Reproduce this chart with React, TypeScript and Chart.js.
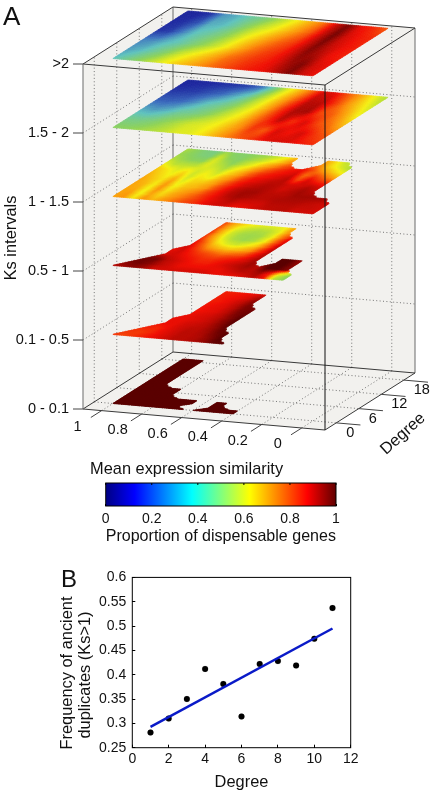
import React, { useEffect, useRef } from "react";
import { Chart, registerables } from "chart.js";

Chart.register(...registerables);

const _ = null;
const D = 100;

// ---------- Panel A data: values x100, rows from degree 0 (front) to the back, columns from similarity 1 to 0
const layerTop = [
  [38,44,50,56,62,67,71,75,79,82,85,87,88,92,97,91,88],
  [32,36,42,48,56,62,67,72,78,81,84,86,89,94,97,90,88],
  [28,30,36,40,46,52,58,65,72,78,82,85,90,96,93,88,86],
  [14,16,28,38,42,47,54,62,68,74,79,83,90,97,91,88,86],
  [12,14,20,34,36,42,50,57,62,68,74,80,90,98,90,87,85],
  [10,10,14,30,34,40,44,50,57,64,71,78,90,97,88,85,80],
];
const layer15 = [
  [50,50,52,54,56,60,60,64,70,76,80,84,88,90,89,87,85],
  [44,44,46,50,54,58,60,63,69,75,84,80,90,87,90,84,80],
  [34,32,36,42,44,48,54,60,66,76,84,92,84,90,82,78,70],
  [22,22,24,30,38,42,48,56,64,74,85,93,94,82,80,72,62],
  [14,15,16,20,24,32,40,52,62,72,82,92,92,84,74,66,58],
  [10,11,12,13,14,16,24,42,58,68,78,90,88,80,72,62,54],
];
const layer1 = [
  [72,74,64,74,70,74,78,82,84,88,90,90,88,88,90,91,92,92,90,90,90],
  [72,73,62,72,66,72,76,80,84,88,90,92,90,90,90,92,92,92,91,91,90],
  [72,71,62,74,64,70,74,78,84,88,92,94,93,92,92,93,93,93,92,91,90],
  [72,70,63,74,62,68,70,74,82,88,92,94,94,92,92,92,94,94,94,94,_],
  [72,68,64,72,60,66,68,72,80,86,90,92,93,92,90,92,94,92,_,_,_],
  [70,66,62,68,58,64,62,70,76,84,88,90,92,92,90,90,92,90,_,_,_],
  [68,64,60,64,58,62,58,66,72,80,86,88,90,92,82,90,86,84,_,_,_],
  [62,56,56,56,60,58,54,62,68,76,82,86,88,90,78,84,78,72,_,_,_],
  [55,52,50,50,60,54,50,56,62,70,76,82,86,88,82,74,68,62,_,_,_],
  [52,50,47,46,58,50,48,52,56,62,68,76,_,_,76,66,60,54,_,_,_],
  [54,50,46,45,52,48,48,50,52,56,62,70,_,_,72,64,56,_,_,_,_],
];
const layer05 = [
  [92,94,96,94,90,90,90,90,90,90,88,88,88,90,92,88,55,50,_,_,_],
  [_,97,98,96,92,90,88,88,88,88,88,90,92,92,94,85,60,50,_,_,_],
  [_,_,98,98,92,90,88,86,86,88,90,92,94,92,D,D,96,_,_,_,_],
  [_,_,_,90,90,88,86,84,84,86,88,90,94,_,D,D,96,_,_,_,_],
  [_,_,_,88,90,86,82,80,78,80,82,88,93,_,D,D,95,_,_,_,_],
  [_,_,_,_,90,82,74,70,68,70,74,84,92,_,_,_,_,_,_,_,_],
  [_,_,_,_,88,78,66,60,58,62,68,80,92,_,_,_,_,_,_,_,_],
  [_,_,_,_,84,72,60,54,52,54,62,78,90,_,_,_,_,_,_,_,_],
  [_,_,_,_,84,70,58,53,52,53,60,76,88,_,_,_,_,_,_,_,_],
  [_,_,_,_,82,70,60,56,54,55,60,74,_,_,_,_,_,_,_,_,_],
  [_,_,_,_,82,72,66,62,60,60,62,72,_,_,_,_,_,_,_,_,_],
];
const layer01 = [
  [84,82,84,86,88,90,92,92,93,95,99,D,_,_,_,_,_,_,_,_,_],
  [_,84,83,85,88,90,92,92,93,96,D,_,_,_,_,_,_,_,_,_,_],
  [_,_,86,85,88,90,92,92,94,98,D,_,_,_,_,_,_,_,_,_,_],
  [_,_,_,88,88,90,91,92,95,99,_,_,_,_,_,_,_,_,_,_,_],
  [_,_,_,88,88,89,90,92,96,D,_,_,_,_,_,_,_,_,_,_,_],
  [_,_,_,_,88,89,90,92,96,D,_,_,_,_,_,_,_,_,_,_,_],
  [_,_,_,_,87,88,89,92,97,99,_,_,_,_,_,_,_,_,_,_,_],
  [_,_,_,_,87,88,89,92,97,98,_,_,_,_,_,_,_,_,_,_,_],
  [_,_,_,_,86,87,89,92,97,_,_,_,_,_,_,_,_,_,_,_,_],
  [_,_,_,_,86,87,88,90,95,_,_,_,_,_,_,_,_,_,_,_,_],
  [_,_,_,_,86,86,87,88,90,_,_,_,_,_,_,_,_,_,_,_,_],
];
const layer0 = [
  [D,D,D,D,D,D,D,D,D,D,D,D,D,_,_,_,_,_,_,_,_],
  [D,D,D,D,D,D,D,_,_,D,D,D,D,_,_,_,_,_,_,_,_],
  [D,D,D,D,D,D,D,D,_,D,D,_,_,_,_,_,_,_,_,_,_],
  [D,D,D,D,D,D,D,D,_,D,D,_,_,_,_,_,_,_,_,_,_],
  [D,D,D,D,D,_,_,_,_,_,_,_,_,_,_,_,_,_,_,_,_],
  [D,D,D,D,D,_,_,_,_,_,_,_,_,_,_,_,_,_,_,_,_],
  [D,D,D,D,D,_,_,_,_,_,_,_,_,_,_,_,_,_,_,_,_],
  [D,D,D,_,_,_,_,_,_,_,_,_,_,_,_,_,_,_,_,_,_],
  [D,D,D,_,_,_,_,_,_,_,_,_,_,_,_,_,_,_,_,_,_],
  [D,D,D,_,_,_,_,_,_,_,_,_,_,_,_,_,_,_,_,_,_],
  [D,D,D,_,_,_,_,_,_,_,_,_,_,_,_,_,_,_,_,_,_],
  [D,D,D,_,_,_,_,_,_,_,_,_,_,_,_,_,_,_,_,_,_],
  [D,D,D,_,_,_,_,_,_,_,_,_,_,_,_,_,_,_,_,_,_],
  [D,D,D,_,_,_,_,_,_,_,_,_,_,_,_,_,_,_,_,_,_],
  [D,D,D,_,_,_,_,_,_,_,_,_,_,_,_,_,_,_,_,_,_],
  [D,D,D,_,_,_,_,_,_,_,_,_,_,_,_,_,_,_,_,_,_],
];
const layerGrids = [layer0, layer01, layer05, layer1, layer15, layerTop];
const layerBackDegree = [18.75, 19.5, 19.5, 20, 20, 20];
const ksLabels = ["0 - 0.1", "0.1 - 0.5", "0.5 - 1", "1 - 1.5", "1.5 - 2", ">2"];
const simTicks = [1, 0.8, 0.6, 0.4, 0.2, 0];
const degreeTicks = [0, 6, 12, 18];

// ---------- Panel B data
const bDegree = [1, 2, 3, 4, 5, 6, 7, 8, 9, 10, 11];
const bFreq = [0.281, 0.31, 0.35, 0.412, 0.381, 0.314, 0.422, 0.428, 0.419, 0.474, 0.537];
const fitDegree = [1, 11];
const fitFreq = [0.293, 0.495];

// ---------- colour maps
type Stop = [number, number, number, number];
const barStops: Stop[] = [
  [0, 0, 0, 130], [0.125, 0, 0, 255], [0.375, 0, 255, 255],
  [0.625, 255, 255, 0], [0.875, 255, 0, 0], [1, 96, 0, 0],
];
const heatStops: Stop[] = [
  [0, 20, 20, 130], [0.125, 30, 40, 160], [0.25, 60, 110, 190], [0.375, 95, 195, 190],
  [0.5, 140, 210, 90], [0.56, 190, 225, 50], [0.625, 245, 240, 20], [0.75, 252, 140, 10],
  [0.875, 240, 15, 5], [1, 90, 0, 0],
];
function heatColor(v: number) {
  for (let i = 1; i < heatStops.length; i++) {
    const a = heatStops[i - 1], b = heatStops[i];
    if (v <= b[0]) {
      const f = (v - a[0]) / (b[0] - a[0]);
      return `rgb(${a[1] + (b[1] - a[1]) * f},${a[2] + (b[2] - a[2]) * f},${a[3] + (b[3] - a[3]) * f})`;
    }
  }
  return "rgb(90,0,0)";
}

// ---------- 3D box projection into the hidden x/y scales
const FONT = "'Liberation Sans', Arial, sans-serif";
const uOf = (sim: number) => 0.077 + (1 - sim) * 0.827;
const vOf = (deg: number) => 0.125 + deg * 0.0417;
const box = (u: number, v: number, level: number) => ({
  x: 83 + 242 * u + 90 * v,
  y: 409 + 21 * u - 57 * v - 69 * level,
});
const GAP = { x: NaN, y: NaN };
const levels = [0, 1, 2, 3, 4, 5];

function segments(list: [any, any][]) {
  const out: any[] = [];
  list.forEach(([a, b]) => out.push(a, b, GAP));
  return out;
}

const wallPts = [box(0, 0, 5), box(0, 1, 5), box(1, 1, 5), box(1, 1, 0), box(1, 0, 0), box(0, 0, 0), box(0, 0, 5)];

const gridSegs: [any, any][] = [];
simTicks.forEach((s) => {
  const u = uOf(s);
  gridSegs.push([box(u, 0, 0), box(u, 1, 0)], [box(u, 1, 0), box(u, 1, 5)]);
});
degreeTicks.forEach((d) => {
  const v = vOf(d);
  gridSegs.push([box(0, v, 0), box(1, v, 0)], [box(0, v, 0), box(0, v, 5)]);
});
levels.slice(1, 5).forEach((l) => {
  gridSegs.push([box(0, 0, l), box(0, 1, l)], [box(0, 1, l), box(1, 1, l)]);
});

const greyEdges: [any, any][] = [
  [box(0, 0, 0), box(0, 0, 5)], [box(0, 1, 0), box(0, 1, 5)], [box(1, 1, 0), box(1, 1, 5)],
];
const darkEdges: [any, any][] = [
  [box(0, 0, 5), box(1, 0, 5)], [box(1, 0, 5), box(1, 1, 5)], [box(1, 1, 5), box(0, 1, 5)], [box(0, 1, 5), box(0, 0, 5)],
  [box(0, 0, 0), box(1, 0, 0)], [box(1, 0, 0), box(1, 1, 0)], [box(1, 1, 0), box(0, 1, 0)], [box(0, 1, 0), box(0, 0, 0)],
];
const tickSegs: [any, any][] = [];
levels.forEach((l) => {
  const p = box(0, 0, l);
  tickSegs.push([{ x: p.x - 10, y: p.y }, p]);
});
simTicks.forEach((s) => tickSegs.push([box(uOf(s), 0, 0), box(uOf(s), -0.12, 0)]));
degreeTicks.forEach((d) => tickSegs.push([box(1, vOf(d), 0), box(1.1, vOf(d), 0)]));

const lineDs = (data: any[], color: string, width: number, order: number, extra: any = {}) => ({
  data, borderColor: color, borderWidth: width, order, showLine: true, pointRadius: 0, spanGaps: false, ...extra,
});

const heatSets = layerGrids.map((grid, level) => {
  const rows = grid.length;
  const cols = grid[0].length;
  const data: any[] = [];
  grid.forEach((row, j) =>
    row.forEach((val, i) => {
      const sim = 1 - i / (cols - 1);
      const deg = (j / (rows - 1)) * layerBackDegree[level];
      data.push({ ...box(uOf(sim), vOf(deg), level), v: val === null ? null : val / 100 });
    })
  );
  return { data, rows, cols, heat: true, order: 5, showLine: false, pointRadius: 0 };
});

const heatPlugin = {
  id: "heat",
  beforeDatasetDraw(chart: any, args: any) {
    const ds = chart.data.datasets[args.index];
    if (!ds.heat) return;
    const ctx = chart.ctx;
    const pts = args.meta.data;
    const raw = ds.data;
    const at = (i: number, j: number) => i + j * ds.cols;
    const N = 6;
    ctx.save();
    ctx.lineWidth = 0.7;
    for (let j = 0; j < ds.rows - 1; j++) {
      for (let i = 0; i < ds.cols - 1; i++) {
        const idx = [at(i, j), at(i + 1, j), at(i + 1, j + 1), at(i, j + 1)];
        const vals = idx.map((k) => raw[k].v);
        const present = vals.filter((x: any) => x !== null);
        if (present.length < 3) continue;
        const corner = [[0, 0], [1, 0], [1, 1], [0, 1]];
        let miss: number[] | null = null;
        const avg = present.reduce((a: number, b: number) => a + b, 0) / present.length;
        const vv = vals.map((x: any, q: number) => {
          if (x === null) { miss = corner[q]; return avg; }
          return x;
        });
        const P = idx.map((k) => pts[k]);
        const pos = (a: number, b: number) => ({
          x: (1 - a) * (1 - b) * P[0].x + a * (1 - b) * P[1].x + a * b * P[2].x + (1 - a) * b * P[3].x,
          y: (1 - a) * (1 - b) * P[0].y + a * (1 - b) * P[1].y + a * b * P[2].y + (1 - a) * b * P[3].y,
        });
        for (let a = 0; a < N; a++) {
          for (let b = 0; b < N; b++) {
            const ca = (a + 0.5) / N, cb = (b + 0.5) / N;
            if (miss && Math.abs(ca - miss[0]) + Math.abs(cb - miss[1]) < 1) continue;
            const v = (1 - ca) * (1 - cb) * vv[0] + ca * (1 - cb) * vv[1] + ca * cb * vv[2] + (1 - ca) * cb * vv[3];
            const q = [pos(a / N, b / N), pos((a + 1) / N, b / N), pos((a + 1) / N, (b + 1) / N), pos(a / N, (b + 1) / N)];
            const c = heatColor(v);
            ctx.fillStyle = c;
            ctx.strokeStyle = c;
            ctx.beginPath();
            ctx.moveTo(q[0].x, q[0].y);
            q.slice(1).forEach((p) => ctx.lineTo(p.x, p.y));
            ctx.closePath();
            ctx.fill();
            ctx.stroke();
          }
        }
      }
    }
    ctx.restore();
  },
};

const boxLabelPlugin = {
  id: "boxLabels",
  afterDraw(chart: any) {
    const ctx = chart.ctx;
    const sx = chart.scales.x, sy = chart.scales.y;
    const px = (p: any) => ({ x: sx.getPixelForValue(p.x), y: sy.getPixelForValue(p.y) });
    ctx.save();
    ctx.fillStyle = "#111";
    ctx.textBaseline = "middle";
    ctx.font = `14.5px ${FONT}`;
    ctx.textAlign = "right";
    ksLabels.forEach((t, l) => {
      const p = px(box(0, 0, l));
      ctx.fillText(t, p.x - 14, p.y);
    });
    ctx.textAlign = "center";
    simTicks.forEach((s) => {
      const p = px(box(uOf(s), 0, 0));
      ctx.fillText(String(s), p.x - 24, p.y + 16);
    });
    ctx.textAlign = "left";
    degreeTicks.forEach((d) => {
      const p = px(box(1, vOf(d), 0));
      ctx.fillText(String(d), p.x + 10, p.y + 10);
    });
    ctx.font = `16.4px ${FONT}`;
    ctx.textAlign = "center";
    ctx.save();
    ctx.translate(403, 434);
    ctx.rotate((-42 * Math.PI) / 180);
    ctx.fillText("Degree", 0, 0);
    ctx.restore();
    ctx.save();
    ctx.translate(11, 238);
    ctx.rotate(-Math.PI / 2);
    ctx.fillText("Ks intervals", 0, 0);
    ctx.restore();
    ctx.font = `26px ${FONT}`;
    ctx.textAlign = "left";
    ctx.fillText("A", 3, 18);
    ctx.restore();
  },
};

const framePlugin = {
  id: "frame",
  afterDatasetsDraw(chart: any, _a: any, opts: any) {
    const { left, right, top, bottom } = chart.chartArea;
    const ctx = chart.ctx;
    ctx.save();
    ctx.strokeStyle = "#000";
    ctx.lineWidth = 1;
    ctx.strokeRect(left, top, right - left, bottom - top);
    if (opts.topTicks) {
      ctx.beginPath();
      chart.scales.x.ticks.forEach((t: any) => {
        const x = chart.scales.x.getPixelForValue(t.value);
        ctx.moveTo(x, top);
        ctx.lineTo(x, top + 2);
      });
      ctx.stroke();
    }
    if (opts.caption) {
      ctx.fillStyle = "#111";
      ctx.font = `16.4px ${FONT}`;
      ctx.textBaseline = "middle";
      ctx.fillText(opts.caption, opts.capX, opts.capY);
    }
    ctx.restore();
  },
};

const trimTick = (v: any) => String(+Number(v).toFixed(2));

export default function App() {
  const aRef = useRef<HTMLCanvasElement>(null);
  const cRef = useRef<HTMLCanvasElement>(null);
  const bRef = useRef<HTMLCanvasElement>(null);

  useEffect(() => {
    const hidden = (max: number, reverse = false) => ({ type: "linear", display: false, min: 0, max, reverse });
    const chartA = new Chart(aRef.current!, {
      type: "scatter",
      data: {
        datasets: [
          lineDs(wallPts, "transparent", 0, 10, { fill: "shape", backgroundColor: "#f2f1ee" }),
          lineDs(segments(gridSegs), "#666", 0.9, 9, { borderDash: [1, 2.4] }),
          lineDs(segments(greyEdges.slice(1)), "#777", 1.1, 8),
          lineDs(segments(darkEdges), "#3a3a3a", 1, 7),
          ...heatSets,
          lineDs(segments(greyEdges.slice(0, 1)), "#777", 1.1, 3),
          lineDs(segments([[box(1, 0, 0), box(1, 0, 5)]]), "#111", 1, 2),
          lineDs(segments(tickSegs), "#444", 1, 1),
        ] as any,
      },
      options: {
        responsive: false,
        animation: false,
        layout: { padding: 0 },
        plugins: { legend: { display: false }, tooltip: { enabled: false } },
        scales: { x: hidden(434), y: hidden(470, true) } as any,
      },
      plugins: [heatPlugin, boxLabelPlugin],
    });

    const chartC = new Chart(cRef.current!, {
      type: "bar",
      data: {
        labels: [""],
        datasets: [
          {
            data: [1],
            barPercentage: 1,
            categoryPercentage: 1,
            backgroundColor: (c: any) => {
              const area = c.chart.chartArea;
              if (!area) return "#000";
              const g = c.chart.ctx.createLinearGradient(area.left, 0, area.right, 0);
              barStops.forEach((s) => g.addColorStop(s[0], `rgb(${s[1]},${s[2]},${s[3]})`));
              return g;
            },
          },
        ],
      },
      options: {
        indexAxis: "y",
        responsive: false,
        animation: false,
        layout: { padding: { left: 105.7, right: 98, top: 33, bottom: 0 } },
        plugins: {
          legend: { display: false },
          tooltip: { enabled: false },
          frame: { topTicks: true, caption: "Mean expression similarity", capX: 90, capY: 19 },
        } as any,
        scales: {
          x: {
            type: "linear",
            min: 0,
            max: 1,
            afterFit: (s: any) => { s.height = 44; },
            grid: { drawOnChartArea: false, tickLength: -2, color: "#000" },
            border: { display: false },
            ticks: {
              stepSize: 0.2,
              padding: 7,
              color: "#111",
              font: { family: FONT, size: 14 },
              maxRotation: 0,
              callback: trimTick,
            },
            title: { display: true, text: "Proportion of dispensable genes", color: "#111", font: { family: FONT, size: 16.5 }, padding: { top: 0, bottom: 4 } },
          },
          y: { display: false },
        } as any,
      },
      plugins: [framePlugin],
    });

    const chartB = new Chart(bRef.current!, {
      type: "scatter",
      data: {
        datasets: [
          {
            data: bDegree.map((x, i) => ({ x, y: bFreq[i] })),
            backgroundColor: "#000",
            pointRadius: 3,
            order: 2,
          },
          {
            data: fitDegree.map((x, i) => ({ x, y: fitFreq[i] })),
            showLine: true,
            borderColor: "#0a1ac8",
            borderWidth: 2.5,
            pointRadius: 0,
            order: 1,
          },
        ],
      },
      options: {
        responsive: false,
        animation: false,
        layout: { padding: { left: 0, right: 83.3, top: 16, bottom: 0 } },
        plugins: { legend: { display: false }, tooltip: { enabled: false }, frame: {} } as any,
        scales: {
          x: {
            type: "linear",
            min: 0,
            max: 12,
            afterFit: (s: any) => { s.height = 48.3; },
            grid: { drawOnChartArea: false, tickLength: -3, color: "#000" },
            border: { display: false },
            ticks: { stepSize: 2, padding: 6, color: "#111", font: { family: FONT, size: 14 }, maxRotation: 0 },
            title: { display: true, text: "Degree", color: "#111", font: { family: FONT, size: 16.4 }, padding: { top: 0, bottom: 4 } },
          },
          y: {
            type: "linear",
            min: 0.25,
            max: 0.6,
            afterFit: (s: any) => { s.width = 132.3; },
            grid: { drawOnChartArea: false, tickLength: -3, color: "#000" },
            border: { display: false },
            ticks: {
              stepSize: 0.05,
              padding: 9,
              color: "#111",
              autoSkip: false,
              font: { family: FONT, size: 14 },
              callback: trimTick,
            },
          },
        } as any,
      },
      plugins: [
        framePlugin,
        {
          id: "panelBText",
          afterDraw(chart: any) {
            const ctx = chart.ctx;
            ctx.save();
            ctx.fillStyle = "#111";
            ctx.font = `24px ${FONT}`;
            ctx.textBaseline = "middle";
            ctx.fillText("B", 61, 20);
            ctx.font = `16.4px ${FONT}`;
            ctx.textAlign = "center";
            [["Frequency of ancient", 67, 113], ["duplicates (Ks>1)", 85, 115]].forEach(([t, x, y]: any) => {
              ctx.save();
              ctx.translate(x, y);
              ctx.rotate(-Math.PI / 2);
              ctx.fillText(t, 0, 0);
              ctx.restore();
            });
            ctx.restore();
          },
        },
      ],
    });

    return () => {
      chartA.destroy();
      chartC.destroy();
      chartB.destroy();
    };
  }, []);

  const abs = (top: number): React.CSSProperties => ({ position: "absolute", left: 0, top, display: "block", filter: "blur(0.35px)" });
  return (
    <div style={{ position: "absolute", left: 0, top: 0, width: 434, height: 796, background: "#fff", overflow: "hidden" }}>
      <canvas ref={aRef} width={434} height={470} style={abs(0)} />
      <canvas ref={cRef} width={434} height={100} style={abs(450)} />
      <canvas ref={bRef} width={434} height={236} style={abs(560)} />
    </div>
  );
}
